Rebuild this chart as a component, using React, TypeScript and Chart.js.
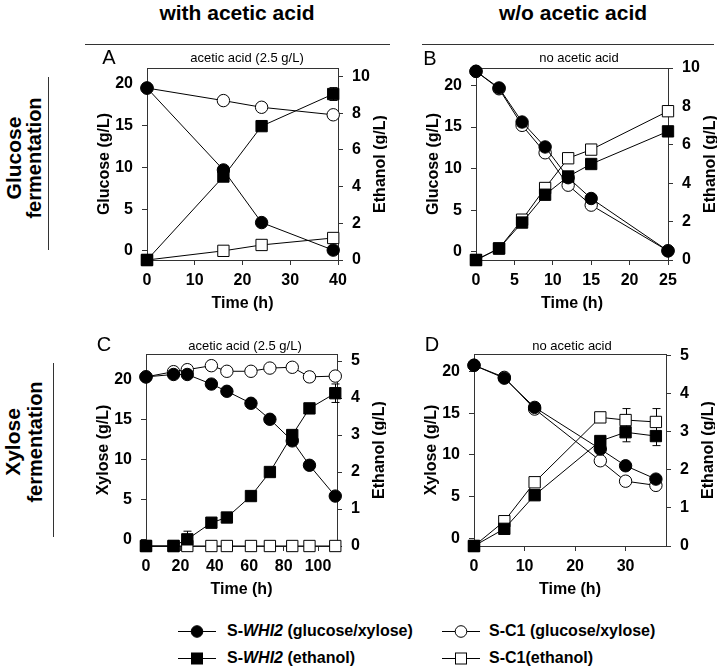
import React, { useEffect, useRef } from 'react';
import { Chart, registerables } from 'chart.js';

Chart.register(...registerables);

const FONT = "'Liberation Sans', Arial, Helvetica, sans-serif";
const AXIS = '#333';

// ---------- Panel A: glucose, with acetic acid (2.5 g/L) ----------
const timeA = [0, 16, 24, 39];
const glucoseWhi2A = [19.5, 9.7, 3.4, 0.1];
const glucoseC1A = [19.5, 18.0, 17.2, 16.3];
const ethanolWhi2A = [0, 4.55, 7.3, 9.05];
const ethanolC1A = [0, 0.5, 0.82, 1.2];
const ethanolWhi2ErrA = [0, 0, 0, 0.35];

// ---------- Panel B: glucose, no acetic acid ----------
const timeB = [0, 3, 6, 9, 12, 15, 25];
const glucoseWhi2B = [21.7, 19.7, 15.6, 12.6, 8.9, 6.4, 0.1];
const glucoseC1B = [21.7, 19.6, 15.2, 11.9, 8.0, 5.6, 0.1];
const ethanolWhi2B = [0, 0.6, 1.95, 3.4, 4.35, 5.0, 6.7];
const ethanolC1B = [0, 0.6, 2.1, 3.75, 5.3, 5.75, 7.75];
const ethanolWhi2ErrB = [0, 0, 0, 0, 0, 0, 0.2];

// ---------- Panel C: xylose, with acetic acid (2.5 g/L) ----------
const timeC = [0, 16, 24, 38, 47, 61, 72, 85, 95, 110];
const xyloseWhi2C = [20.3, 20.6, 20.6, 19.4, 18.5, 17.0, 15.0, 12.3, 9.25, 5.4];
const xyloseC1C = [20.3, 20.95, 21.2, 21.7, 21.0, 21.0, 21.4, 21.5, 20.3, 20.4];
const ethanolWhi2C = [0, 0, 0.18, 0.63, 0.77, 1.35, 2.0, 3.0, 3.72, 4.13];
const ethanolC1C = [0, 0, 0, 0, 0, 0, 0, 0, 0, 0];
const xyloseC1ErrC = [0, 0, 0, 0, 0, 0, 0, 0, 0.6, 0];
const ethanolWhi2ErrC = [0, 0, 0.22, 0, 0, 0, 0, 0, 0, 0.25];

// ---------- Panel D: xylose, no acetic acid ----------
const timeD = [0, 6, 12, 25, 30, 36];
const xyloseWhi2D = [20.75, 19.2, 15.7, 10.7, 8.7, 7.1];
const xyloseC1D = [20.75, 19.3, 15.5, 9.3, 6.85, 6.35];
const ethanolWhi2D = [0, 0.45, 1.33, 2.75, 2.98, 2.88];
const ethanolC1D = [0, 0.65, 1.67, 3.37, 3.3, 3.25];
const xyloseC1ErrD = [0, 0, 0, 0, 0, 0.4];
const ethanolWhi2ErrD = [0, 0, 0, 0, 0.25, 0.25];
const ethanolC1ErrD = [0, 0, 0, 0.1, 0.3, 0.35];

// ---------- tick labels ----------
const ticksTimeA = [0, 10, 20, 30, 40];
const ticksTimeB = [0, 5, 10, 15, 20, 25];
const ticksTimeC = [0, 20, 40, 60, 80, 100];
const ticksTimeD = [0, 10, 20, 30];
const ticksSugar = [0, 5, 10, 15, 20];
const ticksEthanolAB = [0, 2, 4, 6, 8, 10];
const ticksEthanolCD = [0, 1, 2, 3, 4, 5];

const LW = 60;
const RW = 49;
const TP = 20;
const BH = 62;

type Panel = {
  plot: { left: number; top: number; right: number; bottom: number };
  x: [number, number];
  xTicks: number[];
  yL: [number, number];
  yR: [number, number];
  yRTicks: number[];
  leftTitle: string;
  time: number[];
  sugarWhi2: number[];
  sugarC1: number[];
  ethWhi2: number[];
  ethC1: number[];
  errSugarC1?: number[];
  errEthWhi2?: number[];
  errEthC1?: number[];
};

const panels: Panel[] = [
  {
    plot: { left: 147, top: 68, right: 338, bottom: 260 },
    x: [0, 40], xTicks: ticksTimeA, yL: [-1.08, 21.9], yR: [0, 10.47], yRTicks: ticksEthanolAB,
    leftTitle: 'Glucose (g/L)', time: timeA,
    sugarWhi2: glucoseWhi2A, sugarC1: glucoseC1A, ethWhi2: ethanolWhi2A, ethC1: ethanolC1A,
    errEthWhi2: ethanolWhi2ErrA,
  },
  {
    plot: { left: 476, top: 68, right: 668, bottom: 260 },
    x: [0, 25], xTicks: ticksTimeB, yL: [-1.0, 22.1], yR: [0, 10], yRTicks: ticksEthanolAB,
    leftTitle: 'Glucose (g/L)', time: timeB,
    sugarWhi2: glucoseWhi2B, sugarC1: glucoseC1B, ethWhi2: ethanolWhi2B, ethC1: ethanolC1B,
    errEthWhi2: ethanolWhi2ErrB,
  },
  {
    plot: { left: 146, top: 354, right: 337, bottom: 546 },
    x: [0, 111], xTicks: ticksTimeC, yL: [-0.84, 23.16], yR: [0, 5.19], yRTicks: ticksEthanolCD,
    leftTitle: 'Xylose (g/L)', time: timeC,
    sugarWhi2: xyloseWhi2C, sugarC1: xyloseC1C, ethWhi2: ethanolWhi2C, ethC1: ethanolC1C,
    errSugarC1: xyloseC1ErrC, errEthWhi2: ethanolWhi2ErrC,
  },
  {
    plot: { left: 474, top: 354, right: 666, bottom: 546 },
    x: [0, 38], xTicks: ticksTimeD, yL: [-0.92, 22.1], yR: [0, 5.03], yRTicks: ticksEthanolCD,
    leftTitle: 'Xylose (g/L)', time: timeD,
    sugarWhi2: xyloseWhi2D, sugarC1: xyloseC1D, ethWhi2: ethanolWhi2D, ethC1: ethanolC1D,
    errSugarC1: xyloseC1ErrD, errEthWhi2: ethanolWhi2ErrD, errEthC1: ethanolC1ErrD,
  },
];

const framePlugin = {
  id: 'frameTop',
  beforeDatasetsDraw(chart: any) {
    const { ctx, chartArea: a } = chart;
    ctx.save();
    ctx.strokeStyle = AXIS;
    ctx.lineWidth = 1;
    ctx.beginPath();
    ctx.moveTo(a.left, Math.round(a.top) + 0.5);
    ctx.lineTo(a.right + 0.5, Math.round(a.top) + 0.5);
    ctx.stroke();
    ctx.restore();
  },
};

const errorBarPlugin = {
  id: 'errorBars',
  beforeDatasetsDraw(chart: any) {
    const { ctx } = chart;
    ctx.save();
    ctx.strokeStyle = '#000';
    ctx.lineWidth = 1;
    chart.data.datasets.forEach((ds: any, i: number) => {
      if (!ds.errors) return;
      const meta = chart.getDatasetMeta(i);
      const ys = chart.scales[ds.yAxisID];
      meta.data.forEach((pt: any, j: number) => {
        const e = ds.errors[j];
        if (!e) return;
        const v = ds.data[j].y;
        const y1 = ys.getPixelForValue(v + e);
        const y2 = ys.getPixelForValue(v - e);
        const x = Math.round(pt.x) + 0.5;
        ctx.beginPath();
        ctx.moveTo(x, y1);
        ctx.lineTo(x, y2);
        ctx.moveTo(x - 4, y1);
        ctx.lineTo(x + 4, y1);
        ctx.moveTo(x - 4, y2);
        ctx.lineTo(x + 4, y2);
        ctx.stroke();
      });
    });
    ctx.restore();
  },
};

const makeTitlePlugin = (leftTitle: string) => ({
  id: 'axisTitles',
  afterDraw(chart: any) {
    const { ctx, chartArea: a } = chart;
    const my = (a.top + a.bottom) / 2;
    ctx.save();
    ctx.fillStyle = '#000';
    ctx.font = `bold 16px ${FONT}`;
    ctx.textAlign = 'center';
    ctx.textBaseline = 'middle';
    ctx.save();
    ctx.translate(a.left - 42, my);
    ctx.rotate(-Math.PI / 2);
    ctx.fillText(leftTitle, 0, 0);
    ctx.restore();
    ctx.save();
    ctx.translate(a.right + 43, my);
    ctx.rotate(-Math.PI / 2);
    ctx.fillText('Ethanol (g/L)', 0, 0);
    ctx.restore();
    ctx.fillText('Time (h)', (a.left + a.right) / 2, a.bottom + 44);
    ctx.restore();
  },
});

const tickFont = { family: FONT, size: 16, weight: 'bold' as const };

function series(xs: number[], ys: number[]) {
  return xs.map((x, i) => ({ x, y: ys[i] }));
}

function PanelChart({ p }: { p: Panel }) {
  const ref = useRef<HTMLCanvasElement>(null);
  const W = LW + (p.plot.right - p.plot.left) + RW;
  const H = TP + (p.plot.bottom - p.plot.top) + BH;
  useEffect(() => {
    const mk = (label: string, xs: number[], ys: number[], axis: string, style: string, filled: boolean, errors?: number[]) => ({
      label,
      data: series(xs, ys),
      yAxisID: axis,
      borderColor: '#000',
      borderWidth: 1,
      backgroundColor: filled ? '#000' : '#fff',
      pointStyle: style,
      pointRadius: style === 'rect' ? 8 : 6.2,
      pointBorderWidth: 1,
      pointBorderColor: '#000',
      pointBackgroundColor: filled ? '#000' : '#fff',
      tension: 0,
      fill: false,
      clip: false,
      errors,
    });
    const chart = new Chart(ref.current as HTMLCanvasElement, {
      type: 'line',
      data: {
        datasets: [
          mk('S-WHI2 (ethanol)', p.time, p.ethWhi2, 'yR', 'rect', true, p.errEthWhi2),
          mk('S-WHI2 (sugar)', p.time, p.sugarWhi2, 'yL', 'circle', true),
          mk('S-C1 (ethanol)', p.time, p.ethC1, 'yR', 'rect', false, p.errEthC1),
          mk('S-C1 (sugar)', p.time, p.sugarC1, 'yL', 'circle', false, p.errSugarC1),
        ] as any,
      },
      options: {
        animation: false,
        responsive: false,
        maintainAspectRatio: false,
        devicePixelRatio: 1,
        layout: { padding: { top: TP, left: 0, right: 0, bottom: 0 } },
        plugins: { legend: { display: false }, tooltip: { enabled: false }, title: { display: false } },
        scales: {
          x: {
            type: 'linear',
            min: p.x[0],
            max: p.x[1],
            afterBuildTicks: (s: any) => { s.ticks = p.xTicks.map((v) => ({ value: v })); },
            afterFit: (s: any) => { s.height = BH; },
            ticks: { font: tickFont, color: '#000', padding: 6, autoSkip: false, maxRotation: 0, callback: (v: any) => String(v) },
            grid: { display: true, drawOnChartArea: false, drawTicks: true, tickLength: 5, color: AXIS, lineWidth: 1 },
            border: { display: true, color: AXIS, width: 1 },
          },
          yL: {
            type: 'linear',
            position: 'left',
            min: p.yL[0],
            max: p.yL[1],
            afterBuildTicks: (s: any) => { s.ticks = ticksSugar.map((v) => ({ value: v })); },
            afterFit: (s: any) => { s.width = LW; },
            ticks: { font: tickFont, color: '#000', padding: 9, autoSkip: false, callback: (v: any) => String(v) },
            grid: { display: true, drawOnChartArea: false, drawTicks: true, tickLength: 5, color: AXIS, lineWidth: 1 },
            border: { display: true, color: AXIS, width: 1 },
          },
          yR: {
            type: 'linear',
            position: 'right',
            min: p.yR[0],
            max: p.yR[1],
            afterBuildTicks: (s: any) => { s.ticks = p.yRTicks.map((v) => ({ value: v })); },
            afterFit: (s: any) => { s.width = RW; },
            ticks: { font: tickFont, color: '#000', padding: 9, autoSkip: false, callback: (v: any) => String(v) },
            grid: { display: true, drawOnChartArea: false, drawTicks: true, tickLength: 5, color: AXIS, lineWidth: 1 },
            border: { display: true, color: AXIS, width: 1 },
          },
        },
      } as any,
      plugins: [framePlugin, errorBarPlugin, makeTitlePlugin(p.leftTitle)],
    });
    return () => chart.destroy();
  }, []);
  return (
    <canvas
      ref={ref}
      width={W}
      height={H}
      style={{ position: 'absolute', left: p.plot.left - LW, top: p.plot.top - TP, width: W, height: H, display: 'block' }}
    />
  );
}

const abs = (x: number, y: number, extra: React.CSSProperties = {}): React.CSSProperties => ({
  position: 'absolute',
  left: x,
  top: y,
  transform: 'translate(-50%, -50%)',
  whiteSpace: 'nowrap',
  lineHeight: 1,
  fontFamily: FONT,
  color: '#000',
  ...extra,
});

function LegendMarker({ x, y, square, filled }: { x: number; y: number; square: boolean; filled: boolean }) {
  return (
    <svg style={{ position: 'absolute', left: x - 19, top: y - 8 }} width={38} height={16}>
      <line x1={0} y1={8.5} x2={38} y2={8.5} stroke="#000" strokeWidth={1} />
      {square ? (
        <rect x={13.5} y={3} width={11} height={11} fill={filled ? '#000' : '#fff'} stroke="#000" strokeWidth={1} />
      ) : (
        <circle cx={19} cy={8.5} r={5.8} fill={filled ? '#000' : '#fff'} stroke="#000" strokeWidth={1} />
      )}
    </svg>
  );
}

const legendText = (x: number, y: number, children: React.ReactNode) => (
  <div style={{ position: 'absolute', left: x, top: y, transform: 'translateY(-50%)', whiteSpace: 'nowrap', lineHeight: 1, fontFamily: FONT, fontWeight: 'bold', fontSize: 16, color: '#000' }}>
    {children}
  </div>
);

export default function App() {
  return (
    <div style={{ position: 'absolute', left: 0, top: 0, width: 717, height: 670, overflow: 'hidden', background: '#fff' }}>
      {panels.map((p, i) => (
        <PanelChart key={i} p={p} />
      ))}

      {/* column headers */}
      <div style={abs(237, 12, { fontWeight: 'bold', fontSize: 21 })}>with acetic acid</div>
      <div style={abs(573, 12, { fontWeight: 'bold', fontSize: 21 })}>w/o acetic acid</div>
      <div style={{ position: 'absolute', left: 85, top: 44, width: 305, height: 1, background: AXIS }} />
      <div style={{ position: 'absolute', left: 422, top: 44, width: 292, height: 1, background: AXIS }} />

      {/* row headers */}
      <div style={abs(13, 158, { fontWeight: 'bold', fontSize: 21, transform: 'translate(-50%, -50%) rotate(-90deg)' })}>Glucose</div>
      <div style={abs(34, 158, { fontWeight: 'bold', fontSize: 20, transform: 'translate(-50%, -50%) rotate(-90deg)' })}>fermentation</div>
      <div style={{ position: 'absolute', left: 48, top: 77, width: 1, height: 173, background: AXIS }} />
      <div style={abs(12, 442, { fontWeight: 'bold', fontSize: 21, transform: 'translate(-50%, -50%) rotate(-90deg)' })}>Xylose</div>
      <div style={abs(35, 442, { fontWeight: 'bold', fontSize: 20, transform: 'translate(-50%, -50%) rotate(-90deg)' })}>fermentation</div>
      <div style={{ position: 'absolute', left: 53, top: 363, width: 1, height: 174, background: AXIS }} />

      {/* panel letters and titles */}
      <div style={abs(109, 57, { fontSize: 20 })}>A</div>
      <div style={abs(430, 58, { fontSize: 20 })}>B</div>
      <div style={abs(104, 344, { fontSize: 20 })}>C</div>
      <div style={abs(432, 344, { fontSize: 20 })}>D</div>
      <div style={abs(247, 57, { fontSize: 13 })}>acetic acid (2.5 g/L)</div>
      <div style={abs(579, 57, { fontSize: 13 })}>no acetic acid</div>
      <div style={abs(245, 345, { fontSize: 13 })}>acetic acid (2.5 g/L)</div>
      <div style={abs(572, 345, { fontSize: 13 })}>no acetic acid</div>

      {/* legend */}
      <LegendMarker x={197} y={631} square={false} filled={true} />
      <LegendMarker x={197} y={658} square={true} filled={true} />
      <LegendMarker x={461} y={631} square={false} filled={false} />
      <LegendMarker x={461} y={658} square={true} filled={false} />
      {legendText(227, 631, <>S-<i>WHI2</i> (glucose/xylose)</>)}
      {legendText(227, 658, <>S-<i>WHI2</i> (ethanol)</>)}
      {legendText(489, 631, <>S-C1 (glucose/xylose)</>)}
      {legendText(489, 658, <>S-C1(ethanol)</>)}
    </div>
  );
}
